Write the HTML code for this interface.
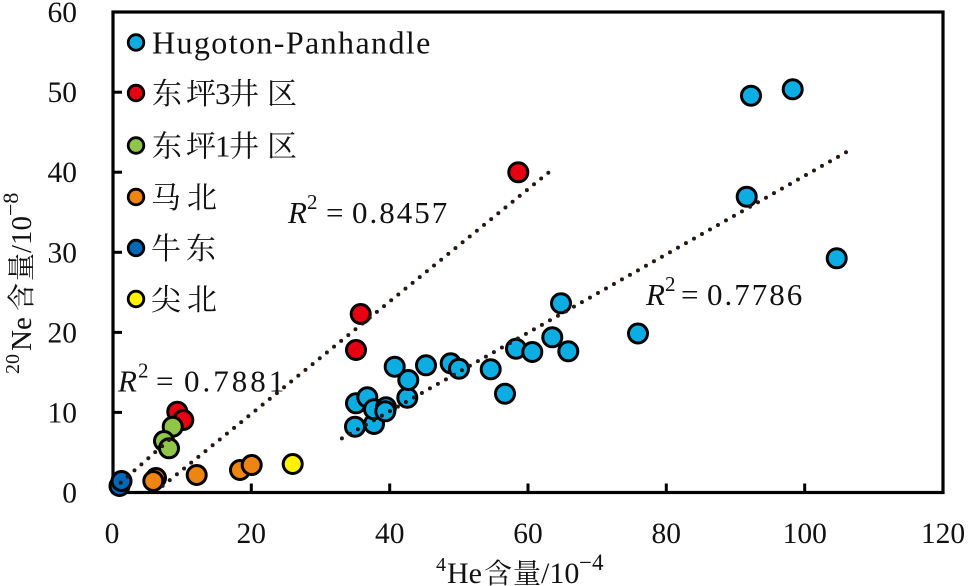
<!DOCTYPE html>
<html><head><meta charset="utf-8"><style>
html,body{margin:0;padding:0;background:#fff;}
svg{display:block;}
text{font-family:"Liberation Serif","Noto Serif CJK SC",serif;fill:#111;}
</style></head><body>
<svg width="969" height="586" viewBox="0 0 969 586" xmlns="http://www.w3.org/2000/svg">
<!-- frame -->
<rect x="113" y="12" width="830" height="480.5" fill="none" stroke="#000" stroke-width="3.2"/>
<!-- ticks -->
<g stroke="#000" stroke-width="3">
<line x1="113" y1="412.4" x2="122" y2="412.4"/>
<line x1="113" y1="332.4" x2="122" y2="332.4"/>
<line x1="113" y1="252.3" x2="122" y2="252.3"/>
<line x1="113" y1="172.2" x2="122" y2="172.2"/>
<line x1="113" y1="92.2" x2="122" y2="92.2"/>
<line x1="251.3" y1="492.5" x2="251.3" y2="483.5"/>
<line x1="389.7" y1="492.5" x2="389.7" y2="483.5"/>
<line x1="528" y1="492.5" x2="528" y2="483.5"/>
<line x1="666.3" y1="492.5" x2="666.3" y2="483.5"/>
<line x1="804.7" y1="492.5" x2="804.7" y2="483.5"/>
</g>
<!-- y tick labels -->
<g font-size="29.5" text-anchor="end">
<text x="77" y="502.5">0</text>
<text x="77" y="422.4">10</text>
<text x="77" y="342.4">20</text>
<text x="77" y="262.3">30</text>
<text x="77" y="182.2">40</text>
<text x="77" y="102.2">50</text>
<text x="77" y="22">60</text>
</g>
<!-- x tick labels -->
<g font-size="29.5" text-anchor="middle">
<text x="112" y="543">0</text>
<text x="251.3" y="543">20</text>
<text x="389.7" y="543">40</text>
<text x="528" y="543">60</text>
<text x="666.3" y="543">80</text>
<text x="804.7" y="543">100</text>
<text x="943" y="543">120</text>
</g>
<!-- x axis label -->
<text x="436" y="571" font-size="20">4</text>
<text x="447" y="583" font-size="30">He</text>
<text x="484" y="583" font-size="28">含</text>
<text x="513" y="583" font-size="28">量</text>
<text x="541" y="583" font-size="30">/10</text>
<text x="579" y="570" font-size="23">−4</text>
<!-- y axis label -->
<g transform="translate(31,374) rotate(-90)">
<text x="0" y="-12" font-size="20">20</text>
<text x="23" y="0" font-size="29">Ne</text>
<text x="63" y="0" font-size="28">含</text>
<text x="93" y="0" font-size="28">量</text>
<text x="121" y="0" font-size="29">/10</text>
<text x="158" y="-13" font-size="22">−8</text>
</g>

<!-- data: Hugoton -->
<g fill="#0badE3" stroke="#000" stroke-width="3">
<circle cx="355" cy="426.7" r="9.5"/>
<circle cx="374" cy="424" r="9.5"/>
<circle cx="356" cy="403.3" r="9.5"/>
<circle cx="367.3" cy="397.3" r="9.5"/>
<circle cx="374" cy="409.3" r="9.5"/>
<circle cx="386" cy="407.3" r="9.5"/>
<circle cx="385.3" cy="411.3" r="9.5"/>
<circle cx="407.3" cy="397.7" r="9.5"/>
<circle cx="408.3" cy="380" r="9.5"/>
<circle cx="394.7" cy="366.7" r="9.5"/>
<circle cx="426" cy="365.3" r="9.5"/>
<circle cx="450.7" cy="363.3" r="9.5"/>
<circle cx="459" cy="368.7" r="9.5"/>
<circle cx="490.7" cy="369.3" r="9.5"/>
<circle cx="505" cy="393.7" r="9.5"/>
<circle cx="516" cy="348.7" r="9.5"/>
<circle cx="532.3" cy="352" r="9.5"/>
<circle cx="552.3" cy="337.3" r="9.5"/>
<circle cx="568.3" cy="351.3" r="9.5"/>
<circle cx="561" cy="303.3" r="9.5"/>
<circle cx="638" cy="333.5" r="9.5"/>
<circle cx="746.7" cy="196.7" r="9.5"/>
<circle cx="751" cy="95.7" r="9.5"/>
<circle cx="792.7" cy="89.3" r="9.5"/>
<circle cx="836.7" cy="258.3" r="9.5"/>
</g>
<!-- 东坪3 -->
<g fill="#e60012" stroke="#000" stroke-width="3">
<circle cx="518.3" cy="172.3" r="9.5"/>
<circle cx="360.7" cy="314" r="9.5"/>
<circle cx="356" cy="350" r="9.5"/>
<circle cx="177.3" cy="411.7" r="9.5"/>
<circle cx="183.3" cy="420" r="9.5"/>
</g>
<!-- 东坪1 -->
<g fill="#8fc548" stroke="#000" stroke-width="3">
<circle cx="172.7" cy="426.7" r="9.5"/>
<circle cx="164" cy="441" r="9.5"/>
<circle cx="169" cy="448.3" r="9.5"/>
</g>
<!-- 马北 -->
<g fill="#ee8512" stroke="#000" stroke-width="3">
<circle cx="156" cy="478" r="9.5"/>
<circle cx="153.3" cy="481" r="9.5"/>
<circle cx="196.7" cy="475" r="9.5"/>
<circle cx="240" cy="470" r="9.5"/>
<circle cx="251.7" cy="465" r="9.5"/>
</g>
<!-- 牛东 -->
<g fill="#0068b7" stroke="#000" stroke-width="3">
<circle cx="119.5" cy="486" r="9.5"/>
<circle cx="121.5" cy="481" r="9.5"/>
</g>
<!-- 尖北 -->
<g fill="#fff100" stroke="#000" stroke-width="3">
<circle cx="292.7" cy="464" r="9.5"/>
</g>

<!-- trend lines -->
<g stroke="#231815" stroke-width="4" stroke-linecap="round" stroke-dasharray="0 9.2" fill="none">
<line x1="846" y1="152.3" x2="339" y2="440"/>
<line x1="548.3" y1="172.7" x2="160" y2="488"/>
<line x1="169" y1="440" x2="118" y2="485"/>
</g>

<!-- R^2 labels -->
<g font-size="31">
<text x="288" y="223" font-style="italic">R</text>
<text x="307" y="209" font-size="21">2</text>
<text x="326" y="223">=</text>
<text x="352" y="223" letter-spacing="2">0.8457</text>

<text x="646" y="305" font-style="italic">R</text>
<text x="665" y="291" font-size="21">2</text>
<text x="681" y="305">=</text>
<text x="707" y="305" letter-spacing="2">0.7786</text>

<text x="118" y="391.7" font-style="italic">R</text>
<text x="138" y="377.7" font-size="21">2</text>
<text x="156" y="391.7">=</text>
<text x="184" y="391.7" letter-spacing="3">0.7881</text>
</g>

<!-- legend -->
<g stroke="#000" stroke-width="2.8">
<circle cx="136" cy="42.5" r="7.8" fill="#0badE3"/>
<circle cx="136" cy="93" r="7.8" fill="#e60012"/>
<circle cx="136" cy="145.5" r="7.8" fill="#8fc548"/>
<circle cx="136" cy="197" r="7.8" fill="#ee8512"/>
<circle cx="136" cy="248" r="7.8" fill="#0068b7"/>
<circle cx="136" cy="299" r="7.8" fill="#fff100"/>
</g>
<text x="152" y="53.5" font-size="32" letter-spacing="1.4">Hugoton-Panhandle</text>
<g font-size="30">
<text y="104"><tspan x="152">东</tspan><tspan x="186">坪</tspan><tspan x="215" font-size="31">3</tspan><tspan x="229">井</tspan><tspan x="267">区</tspan></text>
<text y="156.5"><tspan x="152">东</tspan><tspan x="186">坪</tspan><tspan x="215" font-size="31">1</tspan><tspan x="229">井</tspan><tspan x="267">区</tspan></text>
<text y="208"><tspan x="151">马</tspan><tspan x="187">北</tspan></text>
<text y="259"><tspan x="151">牛</tspan><tspan x="186">东</tspan></text>
<text y="310"><tspan x="151">尖</tspan><tspan x="187">北</tspan></text>
</g>
</svg>
</body></html>
